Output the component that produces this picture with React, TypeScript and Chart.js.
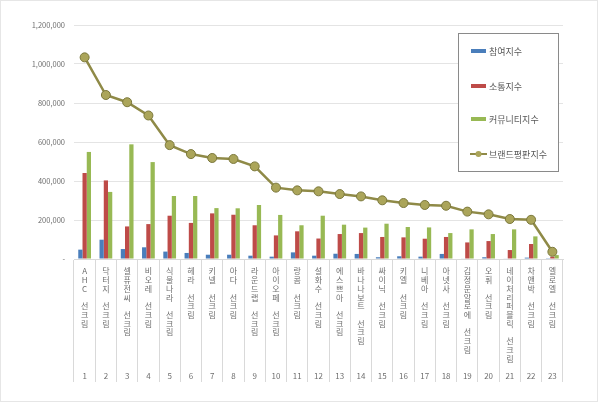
import { useEffect, useRef } from "react";
import { Chart, registerables, Plugin } from "chart.js";

Chart.register(...registerables);

const FONT = "'Noto Sans CJK KR', 'Noto Sans', sans-serif";

// brands, ranked 1..23
const brands = [
  "AHC 선크림", "닥터지 선크림", "셀퓨전씨 선크림", "비오레 선크림", "식물나라 선크림",
  "헤라 선크림", "키넬 선크림", "아다 선크림", "라운드랩 선크림", "아이오페 선크림",
  "랑콤 선크림", "설화수 선크림", "에스쁘아 선크림", "바나나보트 선크림", "싸이닉 선크림",
  "키엘 선크림", "니베아 선크림", "아넷사 선크림", "김정문알로에 선크림", "오휘 선크림",
  "네이처리퍼블릭 선크림", "차앤박 선크림", "엘로엘 선크림",
];
const ranks = [
  "1", "2", "3", "4", "5", "6", "7", "8", "9", "10", "11", "12",
  "13", "14", "15", "16", "17", "18", "19", "20", "21", "22", "23",
];

const participation = [48000, 99000, 51000, 60000, 38000, 31000, 22000, 22000, 17000, 12000, 34000, 17000, 27000, 26000, 9000, 14000, 12000, 26000, 3000, 9000, 3000, 7000, 4000];
const communication = [441000, 403000, 167000, 179000, 222000, 185000, 234000, 227000, 173000, 121000, 142000, 105000, 128000, 133000, 113000, 111000, 104000, 113000, 85000, 92000, 46000, 77000, 12000];
const community = [549000, 344000, 588000, 497000, 323000, 323000, 261000, 260000, 277000, 226000, 173000, 222000, 176000, 161000, 181000, 164000, 162000, 133000, 152000, 128000, 152000, 116000, 20000];
const reputation = [1034000, 841000, 804000, 736000, 584000, 538000, 518000, 513000, 475000, 366000, 352000, 347000, 333000, 321000, 301000, 287000, 277000, 273000, 243000, 229000, 205000, 201000, 37000];

const seriesNames = ["참여지수", "소통지수", "커뮤니티지수", "브랜드평판지수"];

// vertical stacked name, padded so the rank number lands on the same row
const LINES = 12;
const tickLabels = brands.map((name, i) => {
  const chars = Array.from(name);
  while (chars.length < LINES) chars.push("");
  return [...chars, ranks[i]];
});

const boxLegend: Plugin = {
  id: "boxLegend",
  afterDraw(chart) {
    const { ctx } = chart;
    ctx.save();
    // faint frame around the picture
    ctx.strokeStyle = "#e6e6e6";
    ctx.lineWidth = 1;
    ctx.strokeRect(0.5, 0.5, 597, 401);

    const x = 458, y = 33, w = 100, h = 138;
    ctx.fillStyle = "#ffffff";
    ctx.fillRect(x, y, w, h);
    ctx.strokeStyle = "#8a8a8a";
    ctx.strokeRect(x + 0.5, y + 0.5, w, h);

    const rows = [51, 86, 119, 154];
    ctx.font = `9px ${FONT}`;
    ctx.textBaseline = "middle";
    chart.data.datasets.forEach((ds: any, i) => {
      const cy = rows[i];
      if (ds.type === "line") {
        ctx.strokeStyle = ds.borderColor;
        ctx.lineWidth = 2;
        ctx.beginPath();
        ctx.moveTo(470, cy);
        ctx.lineTo(487, cy);
        ctx.stroke();
        ctx.fillStyle = ds.pointBackgroundColor;
        ctx.beginPath();
        ctx.arc(478.5, cy, 3, 0, Math.PI * 2);
        ctx.fill();
      } else {
        ctx.fillStyle = ds.backgroundColor;
        ctx.fillRect(471, cy - 2, 15, 4);
      }
      ctx.fillStyle = "#595959";
      ctx.fillText(ds.label, 489, cy + 0.5);
    });
    ctx.restore();
  },
};

export default function App() {
  const canvasRef = useRef<HTMLCanvasElement>(null);

  useEffect(() => {
    document.body.style.margin = "0";
    const canvas = canvasRef.current;
    if (!canvas) return;
    const chart = new Chart(canvas, {
      type: "bar",
      data: {
        labels: tickLabels,
        datasets: [
          { type: "bar", label: seriesNames[0], data: participation, backgroundColor: "#4a7ebb", order: 1 },
          { type: "bar", label: seriesNames[1], data: communication, backgroundColor: "#be4b48", order: 1 },
          { type: "bar", label: seriesNames[2], data: community, backgroundColor: "#98b954", order: 1 },
          {
            type: "line",
            label: seriesNames[3],
            data: reputation,
            borderColor: "#8f8a47",
            borderWidth: 2.5,
            tension: 0,
            pointRadius: 4.5,
            pointBackgroundColor: "#aba55a",
            pointBorderColor: "#7b783c",
            pointBorderWidth: 1,
            order: 0,
          } as any,
        ],
      },
      options: {
        animation: false,
        responsive: true,
        maintainAspectRatio: false,
        layout: { padding: { top: 25, right: 37, bottom: 20, left: 0 } },
        datasets: { bar: { categoryPercentage: 0.6, barPercentage: 1 } },
        plugins: { legend: { display: false }, tooltip: { enabled: false } },
        scales: {
          x: {
            offset: true,
            grid: { offset: true, drawOnChartArea: false, drawTicks: true, tickLength: 123, color: "#d9d9d9" },
            border: { display: true, color: "#d9d9d9" },
            ticks: {
              autoSkip: false,
              maxRotation: 0,
              minRotation: 0,
              padding: -115,
              color: "#6e6e6e",
              font: { family: FONT, size: 8, lineHeight: 1.09 },
            },
            afterFit: (s: any) => { s.height = 124; },
          },
          y: {
            min: 0,
            max: 1200000,
            ticks: {
              stepSize: 200000,
              padding: 9,
              color: "#6e6e6e",
              font: { family: FONT, size: 7.5 },
              callback: (v: any) => (v === 0 ? "-" : Number(v).toLocaleString("en-US")),
            },
            grid: { color: "#e4e4e4", drawTicks: false },
            border: { display: false },
            afterFit: (s: any) => { s.width = 74; },
          },
        },
      },
      plugins: [boxLegend],
    });
    return () => chart.destroy();
  }, []);

  return (
    <div style={{ position: "fixed", left: 0, top: 0, width: 600, height: 403 }}>
      <canvas ref={canvasRef} />
    </div>
  );
}
